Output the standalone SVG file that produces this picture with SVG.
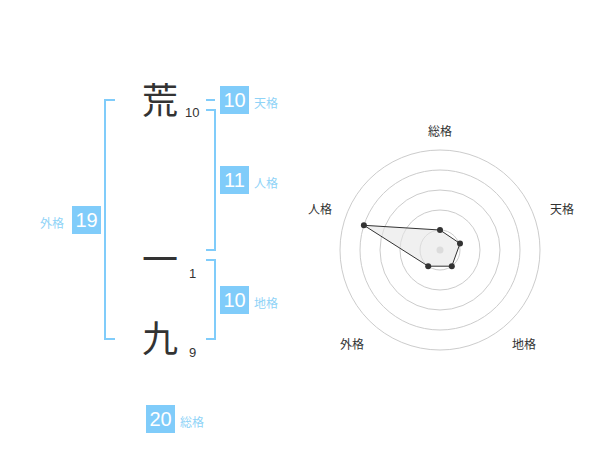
<svg xmlns="http://www.w3.org/2000/svg" width="600" height="470" viewBox="0 0 600 470">
<style>
.ch{font-family:"Noto Sans CJK JP","Noto Sans CJK SC",sans-serif;font-size:36px;fill:#333;text-anchor:middle}
.st{font-family:"Liberation Sans",Arial,sans-serif;font-size:13px;fill:#333}
.br{fill:none;stroke:#80ccfa;stroke-width:2}
.bx{fill:#80ccfa}
.bn{font-family:"Liberation Sans",Arial,sans-serif;font-size:20px;fill:#fff;text-anchor:middle}
.bl{font-family:"Noto Sans CJK JP","Noto Sans CJK SC",sans-serif;font-size:12px;fill:#8fd3f7}
.ring{fill:none;stroke:#ccc;stroke-width:1}
.ax{font-family:"Noto Sans CJK JP","Noto Sans CJK SC",sans-serif;font-size:12px;fill:#333;text-anchor:middle}
.pt{fill:#333}
</style>
<g id="chars">
<text class="ch" x="160" y="114">荒</text>
<text class="st" x="185" y="117">10</text>
<text class="ch" x="160" y="273">一</text>
<text class="st" x="189" y="278">1</text>
<text class="ch" x="160" y="352">九</text>
<text class="st" x="189" y="357">9</text>
</g>
<g id="connectors">
<path class="br" d="M115,100 H105 V339 H115"/>
<path class="br" d="M206,100 H215"/>
<path class="br" d="M206,110 H215 V250 H206"/>
<path class="br" d="M206,260 H215 V339 H206"/>
</g>
<g id="tenkaku">
<rect class="bx" x="220" y="86" width="29" height="28"/>
<text class="bn" x="234.5" y="107">10</text>
<text class="bl" x="254" y="108">天格</text>
</g>
<g id="jinkaku">
<rect class="bx" x="220" y="166" width="29" height="28"/>
<text class="bn" x="234.5" y="187">11</text>
<text class="bl" x="254" y="188">人格</text>
</g>
<g id="chikaku">
<rect class="bx" x="220" y="286" width="29" height="28"/>
<text class="bn" x="234.5" y="307">10</text>
<text class="bl" x="254" y="308">地格</text>
</g>
<g id="gaikaku">
<rect class="bx" x="72" y="206" width="29" height="28"/>
<text class="bn" x="86.5" y="227">19</text>
<text class="bl" x="40" y="228">外格</text>
</g>
<g id="soukaku">
<rect class="bx" x="146" y="405" width="29" height="28"/>
<text class="bn" x="160.5" y="426">20</text>
<text class="bl" x="180" y="427">総格</text>
</g>
<g id="radar">
<circle class="ring" cx="440" cy="250" r="100"/>
<circle class="ring" cx="440" cy="250" r="80"/>
<circle class="ring" cx="440" cy="250" r="60"/>
<circle class="ring" cx="440" cy="250" r="40"/>
<circle class="ring" cx="440" cy="250" r="20"/>
<circle cx="440" cy="250" r="3.5" fill="#ccc"/>
<polygon points="440,230 460,243.5 451.8,266.2 428.2,266.2 363.9,225.3" fill="#e6e6e6" fill-opacity="0.6" stroke="#333" stroke-width="1"/>
<circle class="pt" cx="440" cy="230" r="3"/>
<circle class="pt" cx="460" cy="243.5" r="3"/>
<circle class="pt" cx="451.8" cy="266.2" r="3"/>
<circle class="pt" cx="428.2" cy="266.2" r="3"/>
<circle class="pt" cx="363.9" cy="225.3" r="3"/>
<text class="ax" x="440" y="136">総格</text>
<text class="ax" x="562" y="214">天格</text>
<text class="ax" x="320" y="214">人格</text>
<text class="ax" x="352" y="349">外格</text>
<text class="ax" x="524" y="349">地格</text>
</g>
</svg>
